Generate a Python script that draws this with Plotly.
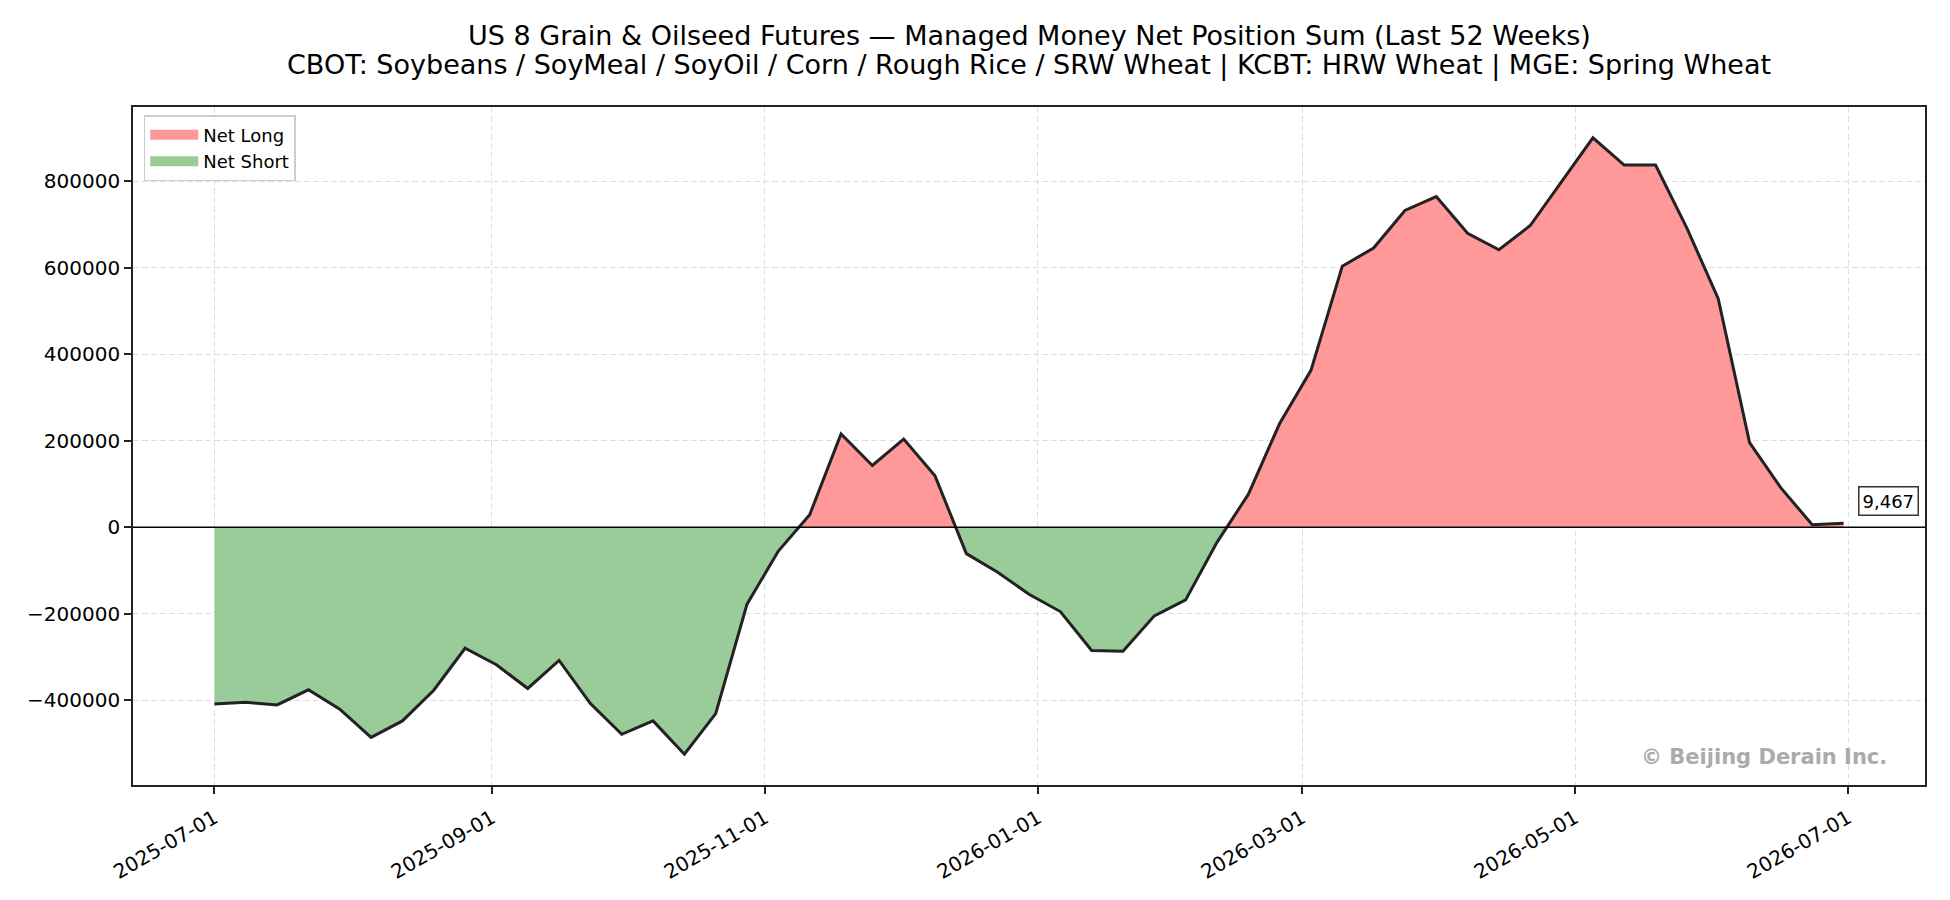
import numpy as np
import pandas as pd
import plotly.graph_objects as go

# ---- data ----
start_date = "2025-07-01"
n_weeks = 53
net_position = [
    -409000, -405000, -411000, -376000, -421000, -486000, -448000, -377000,
    -280000, -318000, -373000, -308000, -408000, -479000, -448000, -525000,
    -431000, -178000, -55000, 29000, 216000, 143000, 204000, 119000,
    -61000, -104000, -155000, -195000, -285000, -287000, -205000, -168000,
    -35000, 76000, 240000, 363000, 604000, 646000, 733000, 765000,
    680000, 642000, 698000, 800000, 901000, 838000, 838000, 692000,
    529000, 196000, 91000, 6000, 9467,
]
x_tick_labels = ["2025-07-01", "2025-09-01", "2025-11-01", "2026-01-01",
                 "2026-03-01", "2026-05-01", "2026-07-01"]
y_tick_values = [-400000, -200000, 0, 200000, 400000, 600000, 800000]
title_line1 = "US 8 Grain & Oilseed Futures \u2014 Managed Money Net Position Sum (Last 52 Weeks)"
title_line2 = "CBOT: Soybeans / SoyMeal / SoyOil / Corn / Rough Rice / SRW Wheat | KCBT: HRW Wheat | MGE: Spring Wheat"
watermark = "\u00a9 Beijing Derain Inc."

dates = pd.date_range(start_date, periods=n_weeks, freq="7D")
vals = np.array(net_position, dtype=float)

# ---- build interpolated series for fill_between(interpolate=True) ----
t = dates.values.astype("datetime64[ms]").astype(np.int64).astype(float)
xs, ys = [t[0]], [vals[0]]
for i in range(1, len(vals)):
    a, b = vals[i - 1], vals[i]
    if a * b < 0:
        tc = t[i - 1] + (t[i] - t[i - 1]) * (a / (a - b))
        xs.append(tc)
        ys.append(0.0)
    xs.append(t[i])
    ys.append(b)
xs = pd.to_datetime(np.array(xs).astype(np.int64), unit="ms")
ys = np.array(ys)
pos = np.where(ys > 0, ys, 0.0)
neg = np.where(ys < 0, ys, 0.0)

FONT = "DejaVu Sans"
LONG_C = "#ff9999"
SHORT_C = "#99cc99"

fig = go.Figure()
fig.add_trace(go.Scatter(x=xs, y=pos, mode="lines", fill="tozeroy",
                         fillcolor=LONG_C, line=dict(width=0, color=LONG_C),
                         showlegend=False, hoverinfo="skip"))
fig.add_trace(go.Scatter(x=xs, y=neg, mode="lines", fill="tozeroy",
                         fillcolor=SHORT_C, line=dict(width=0, color=SHORT_C),
                         showlegend=False, hoverinfo="skip"))
fig.add_trace(go.Scatter(x=dates, y=vals, mode="lines",
                         line=dict(color="#222222", width=3),
                         showlegend=False, name="Net"))
# legend entries (patch-like swatches)
fig.add_trace(go.Scatter(x=[None], y=[None], mode="lines", name="Net Long",
                         line=dict(color=LONG_C, width=13)))
fig.add_trace(go.Scatter(x=[None], y=[None], mode="lines", name="Net Short",
                         line=dict(color=SHORT_C, width=13)))

# axis ranges like matplotlib 5% margins
span_t = dates[-1] - dates[0]
x_range = [dates[0] - span_t * 0.05, dates[-1] + span_t * 0.05]
vr = vals.max() - vals.min()
y_range = [vals.min() - 0.05 * vr, vals.max() + 0.05 * vr]

grid = dict(showgrid=True, gridcolor="#dedede", gridwidth=1.3, griddash="6px,3px")
fig.update_xaxes(range=x_range, tickvals=pd.to_datetime(x_tick_labels),
                 ticktext=x_tick_labels, tickangle=-30, ticklabelstandoff=5,
                 ticks="outside", ticklen=7, tickwidth=1.5, tickcolor="#222",
                 showline=True, linecolor="#222", linewidth=1.6, mirror=True,
                 zeroline=False, tickfont=dict(size=20, color="black", family=FONT),
                 **grid)
fig.update_yaxes(range=y_range, tickvals=y_tick_values, tickformat="d",
                 ticks="outside", ticklen=7, tickwidth=1.5, tickcolor="#222",
                 showline=True, linecolor="#222", linewidth=1.6, mirror=True,
                 zeroline=False, tickfont=dict(size=20, color="black", family=FONT),
                 **grid)

fig.add_hline(y=0, line=dict(color="black", width=1.6), layer="above")

# title lines
fig.add_annotation(text=title_line1, xref="paper", yref="paper", x=0.5, y=(785 - 35) / 678,
                   xanchor="center", yanchor="middle", showarrow=False,
                   font=dict(family=FONT, size=27, color="black"))
fig.add_annotation(text=title_line2, xref="paper", yref="paper", x=0.5, y=(785 - 65) / 678,
                   xanchor="center", yanchor="middle", showarrow=False,
                   font=dict(family=FONT, size=27, color="black"))

# last value label
fig.add_annotation(x=dates[-1], y=vals[-1], text=f"{int(vals[-1]):,}",
                   xanchor="left", yanchor="bottom", xshift=14, yshift=7,
                   showarrow=False, bgcolor="white", bordercolor="#333",
                   borderwidth=1.5, borderpad=3,
                   font=dict(family=FONT, size=18, color="black"))

# watermark
fig.add_annotation(text=f"<b>{watermark}</b>", xref="paper", yref="paper",
                   x=0.98, y=0.02, xanchor="right", yanchor="bottom", showarrow=False,
                   font=dict(family=FONT, size=21, color="#ababab"))

fig.update_layout(
    width=1950, height=900,
    margin=dict(l=133, r=25, t=107, b=115),
    paper_bgcolor="white", plot_bgcolor="white",
    font=dict(family=FONT, color="black"),
    showlegend=True,
    legend=dict(x=0.006, y=0.988, xanchor="left", yanchor="top",
                bgcolor="rgba(255,255,255,0.85)", bordercolor="#cccccc", borderwidth=1.5,
                font=dict(family=FONT, size=18, color="black"),
                itemwidth=48, tracegroupgap=2),
)

fig.write_html("out.html", config={"displayModeBar": False},
               post_script="document.body.style.margin='0';")
